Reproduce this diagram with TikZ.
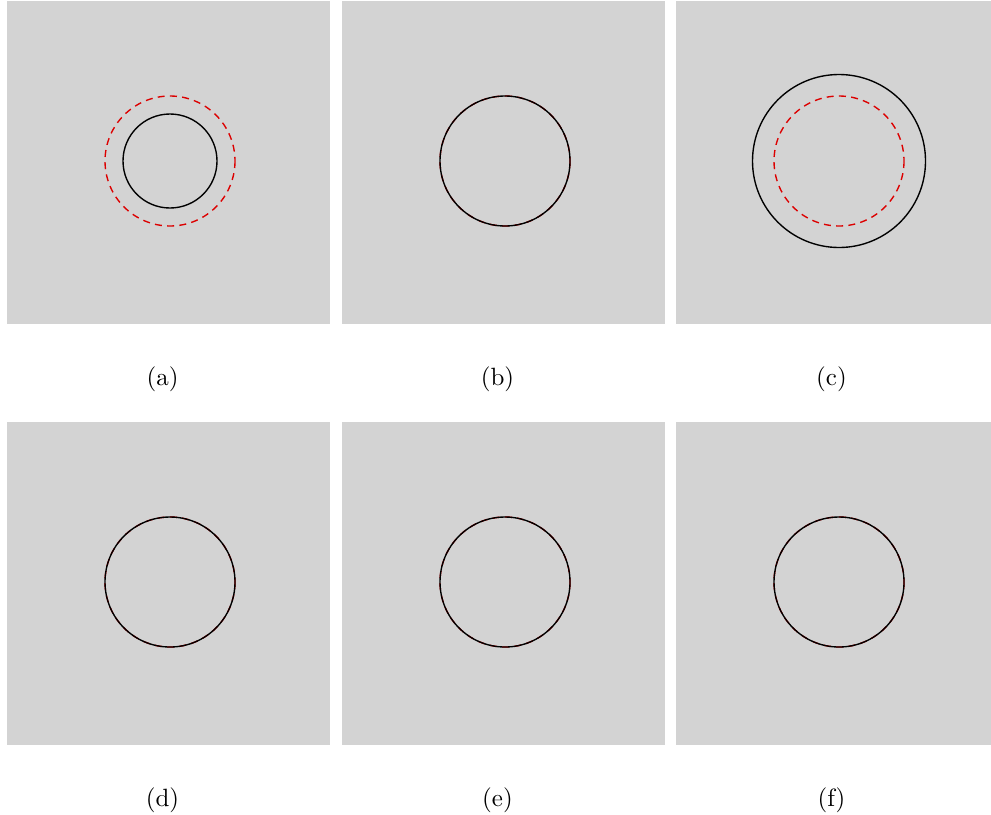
\documentclass[tikz,border=0pt]{standalone}
\usetikzlibrary{positioning}
\definecolor{panelgray}{RGB}{211,211,211}
\definecolor{guidered}{RGB}{220,0,0}
\tikzset{
    panel/.style={
    fill=panelgray,draw=none
    },
    target/.style={
    draw=guidered,line width=0.55pt,dash pattern=on 2.8pt off 2.1pt
    },
    contour/.style={
    draw=black,line width=0.55pt
    },
    caption/.style={
    inner sep=0pt,font=\normalsize
    },
}
\begin{document}
\begin{tikzpicture}[x=0.4pt, y=-0.4pt]
  \useasboundingbox (0,0) rectangle (991,814);
  \clip (0,0) rectangle (991,814);
  % one panel per case: label / left / top / contour radius
  \foreach \lbl/\px/\py/\rr in {a/7/1/47, b/342/1/65, c/676/1/86.5,
                                d/7/422/65, e/342/422/65, f/676/422/65} {
    \fill[panel] (\px,\py) rectangle ++(323,323);
    \coordinate (o\lbl) at (\px+163,\py+160);
    \draw[target] (o\lbl) circle[radius=65];
    \draw[contour] (o\lbl) circle[radius=\rr];
    \node[caption] (cap\lbl) at (\px+155.5,\py+378) {(\lbl)};
  }
\end{tikzpicture}
\end{document}
